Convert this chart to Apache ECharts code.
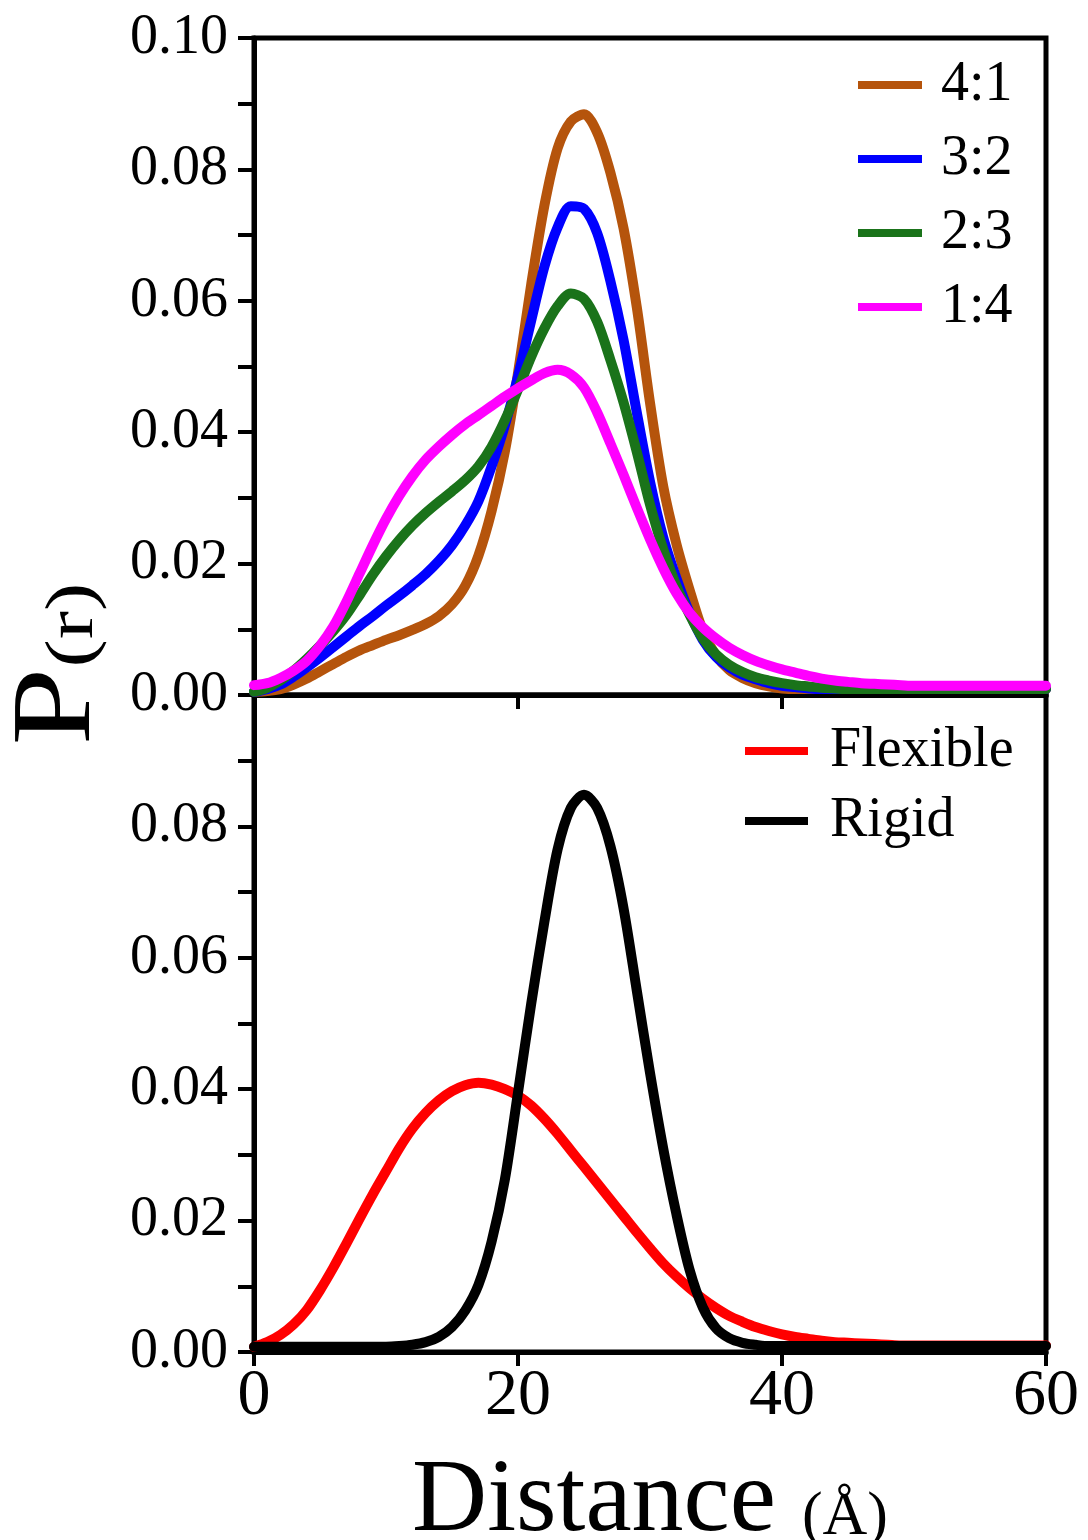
<!DOCTYPE html>
<html>
<head>
<meta charset="utf-8">
<script src="https://cdn.jsdelivr.net/npm/echarts@6/dist/echarts.min.js"></script>
<style>
  html, body { margin: 0; padding: 0; background: #ffffff; }
  #chart { width: 1088px; height: 1540px; }
</style>
</head>
<body>
<div id="chart"></div>
<script>
// Distance grid (Å), 1 Å steps, shared by every curve
const distance = [];
for (let d = 0; d <= 60; d++) distance.push(d);

// Upper panel: distance distributions for the four mixing ratios
const ratioNames = ['4:1', '3:2', '2:3', '1:4'];
const p41 = [
  0.0005, 0.0006, 0.0009, 0.0016, 0.0025, 0.0036, 0.0047, 0.0058, 0.0068, 0.0076,
  0.0084, 0.0091, 0.0099, 0.0108, 0.0120, 0.0138, 0.0166, 0.0212, 0.0280, 0.0370,
  0.0490, 0.0625, 0.0745, 0.0832, 0.0873, 0.0884, 0.0856, 0.0795, 0.0710, 0.0590,
  0.0445, 0.0318, 0.0230, 0.0160, 0.0098, 0.0060, 0.0038, 0.0026, 0.0018, 0.0013,
  0.0010, 0.0009, 0.0009, 0.0009, 0.0009, 0.0009, 0.0009, 0.0009, 0.0009, 0.0009,
  0.0009, 0.0009, 0.0009, 0.0009, 0.0009, 0.0009, 0.0009, 0.0009, 0.0009, 0.0009, 0.0009
];
const p32 = [
  0.0005, 0.0009, 0.0016, 0.0028, 0.0042, 0.0057, 0.0073, 0.0089, 0.0105, 0.0120,
  0.0136, 0.0151, 0.0167, 0.0184, 0.0204, 0.0228, 0.0258, 0.0295, 0.0348, 0.0410,
  0.0485, 0.0570, 0.0652, 0.0712, 0.0744, 0.0740, 0.0703, 0.0630, 0.0540, 0.0430,
  0.0325, 0.0240, 0.0178, 0.0125, 0.0084, 0.0058, 0.0042, 0.0031, 0.0024, 0.0018,
  0.0014, 0.0012, 0.0010, 0.0009, 0.0009, 0.0009, 0.0009, 0.0009, 0.0009, 0.0009,
  0.0009, 0.0009, 0.0009, 0.0009, 0.0009, 0.0009, 0.0009, 0.0009, 0.0009, 0.0009, 0.0009
];
const p23 = [
  0.0005, 0.0011, 0.0022, 0.0037, 0.0055, 0.0075, 0.0097, 0.0122, 0.0152, 0.0183,
  0.0211, 0.0236, 0.0258, 0.0277, 0.0294, 0.0310, 0.0327, 0.0348, 0.0378, 0.0418,
  0.0465, 0.0515, 0.0558, 0.0592, 0.0611, 0.0603, 0.0568, 0.0510, 0.0445, 0.0370,
  0.0290, 0.0222, 0.0166, 0.0122, 0.0086, 0.0062, 0.0046, 0.0035, 0.0027, 0.0022,
  0.0018, 0.0015, 0.0013, 0.0011, 0.0010, 0.0009, 0.0009, 0.0009, 0.0009, 0.0009,
  0.0009, 0.0009, 0.0009, 0.0009, 0.0009, 0.0009, 0.0009, 0.0009, 0.0009, 0.0009, 0.0009
];
const p14 = [
  0.0015, 0.0018, 0.0026, 0.0037, 0.0052, 0.0075, 0.0104, 0.0142, 0.0185, 0.0228,
  0.0268, 0.0303, 0.0333, 0.0358, 0.0378, 0.0396, 0.0412, 0.0426, 0.0440, 0.0454,
  0.0467, 0.0479, 0.0490, 0.0495, 0.0488, 0.0468, 0.0430, 0.0383, 0.0335, 0.0285,
  0.0237, 0.0193, 0.0155, 0.0125, 0.0103, 0.0086, 0.0072, 0.0061, 0.0052, 0.0045,
  0.0039, 0.0034, 0.0029, 0.0025, 0.0022, 0.0020, 0.0018, 0.0017, 0.0016, 0.0015,
  0.0014, 0.0014, 0.0014, 0.0014, 0.0014, 0.0014, 0.0014, 0.0014, 0.0014, 0.0014, 0.0014
];

// Lower panel: flexible vs rigid linker
const flexible = [
  0.0008, 0.0015, 0.0026, 0.0042, 0.0064, 0.0094, 0.0128, 0.0165, 0.0203, 0.0240,
  0.0275, 0.0310, 0.0340, 0.0364, 0.0383, 0.0397, 0.0406, 0.0410, 0.0407, 0.0400,
  0.0390, 0.0375, 0.0355, 0.0332, 0.0307, 0.0282, 0.0257, 0.0232, 0.0207, 0.0182,
  0.0158, 0.0135, 0.0115, 0.0097, 0.0081, 0.0067, 0.0055, 0.0046, 0.0038, 0.0032,
  0.0027, 0.0023, 0.0020, 0.0017, 0.0015, 0.0014, 0.0013, 0.0012, 0.0011, 0.0010,
  0.0010, 0.0010, 0.0010, 0.0010, 0.0010, 0.0010, 0.0010, 0.0010, 0.0010, 0.0010, 0.0010
];
const rigid = [
  0.0008, 0.0008, 0.0008, 0.0008, 0.0008, 0.0008, 0.0008, 0.0008, 0.0008, 0.0008,
  0.0008, 0.0009, 0.0011, 0.0015, 0.0023, 0.0038, 0.0063, 0.0102, 0.0168, 0.0262,
  0.0395, 0.0530, 0.0655, 0.0765, 0.0828, 0.0848, 0.0828, 0.0770, 0.0675, 0.0550,
  0.0425, 0.0310, 0.0210, 0.0125, 0.0068, 0.0036, 0.0021, 0.0014, 0.0011, 0.0009,
  0.0009, 0.0009, 0.0009, 0.0009, 0.0009, 0.0009, 0.0009, 0.0009, 0.0009, 0.0009,
  0.0009, 0.0009, 0.0009, 0.0009, 0.0009, 0.0009, 0.0009, 0.0009, 0.0009, 0.0009, 0.0009
];

const xTicks = [0, 20, 40, 60];
const yTickLabels = ['0.00', '0.02', '0.04', '0.06', '0.08', '0.10'];

const colors = {
  '4:1': '#b5540c',
  '3:2': '#0000ff',
  '2:3': '#1a731a',
  '1:4': '#ff00ff',
  'Flexible': '#ff0000',
  'Rigid': '#000000'
};

const serif = 'Liberation Serif';
const pair = (ys) => distance.map((x, i) => [x, ys[i]]);

function yLabel(hideTop) {
  return function (v) {
    const k = Math.round(v * 100);
    if (hideTop && k === 10) return '';
    if (k % 2 !== 0) return '';
    const s = (k / 100).toFixed(2);
    return yTickLabels.indexOf(s) >= 0 ? s : '';
  };
}

function lineSeries(name, ys, grid) {
  return {
    name: name,
    type: 'line',
    xAxisIndex: grid,
    yAxisIndex: grid,
    data: pair(ys),
    smooth: 0.3,
    showSymbol: false,
    symbol: 'none',
    lineStyle: { width: 10, color: colors[name], cap: 'round', join: 'round' },
    itemStyle: { color: colors[name] },
    animation: false
  };
}

const axisLineStyle = { color: '#000', width: 5 };
const tickStyle = { color: '#000', width: 4 };

const option = {
  backgroundColor: '#ffffff',
  animation: false,
  grid: [
    { left: 254, top: 38, width: 792, height: 657, show: true, borderColor: '#000', borderWidth: 5, backgroundColor: 'transparent', outerBoundsMode: 'none' },
    { left: 254, top: 695, width: 792, height: 657, show: true, borderColor: '#000', borderWidth: 5, backgroundColor: 'transparent', outerBoundsMode: 'none' }
  ],
  xAxis: [
    {
      gridIndex: 0, type: 'value', min: 0, max: 60, interval: 20,
      axisLine: { show: true, lineStyle: axisLineStyle },
      axisTick: { show: true, inside: false, length: 14, lineStyle: tickStyle },
      axisLabel: { show: false },
      splitLine: { show: false }
    },
    {
      gridIndex: 1, type: 'value', min: 0, max: 60, interval: 20,
      axisLine: { show: true, lineStyle: axisLineStyle },
      axisTick: { show: true, inside: false, length: 14, lineStyle: tickStyle },
      axisLabel: {
        show: true, margin: 12, color: '#000', fontFamily: serif, fontSize: 66,
        formatter: (v) => xTicks.indexOf(v) >= 0 ? String(v) : ''
      },
      splitLine: { show: false },
      name: '{a|Distance }{b|(Å)}',
      nameLocation: 'middle',
      nameGap: 99,
      nameTextStyle: {
        color: '#000', fontFamily: serif,
        rich: {
          a: { fontSize: 104, fontFamily: serif, color: '#000' },
          b: { fontSize: 62, fontFamily: serif, color: '#000', padding: [30, 0, 0, 0] }
        }
      }
    }
  ],
  yAxis: [
    {
      gridIndex: 0, type: 'value', min: 0, max: 0.1, interval: 0.01,
      axisLine: { show: true, lineStyle: axisLineStyle },
      axisTick: { show: true, inside: false, length: 16, lineStyle: tickStyle },
      axisLabel: { show: true, margin: 26, color: '#000', fontFamily: serif, fontSize: 56, formatter: yLabel(false), showMinLabel: true, showMaxLabel: true },
      splitLine: { show: false }
    },
    {
      gridIndex: 1, type: 'value', min: 0, max: 0.1, interval: 0.01,
      axisLine: { show: true, lineStyle: axisLineStyle },
      axisTick: { show: true, inside: false, length: 16, lineStyle: tickStyle },
      axisLabel: { show: true, margin: 26, color: '#000', fontFamily: serif, fontSize: 56, formatter: yLabel(true), showMinLabel: true, showMaxLabel: true },
      splitLine: { show: false }
    }
  ],
  legend: [
    {
      data: ratioNames,
      orient: 'vertical',
      left: 853, top: 52,
      icon: 'rect', itemWidth: 64, itemHeight: 8, itemGap: 18,
      textStyle: { color: '#000', fontFamily: serif, fontSize: 56, lineHeight: 56, padding: [0, 0, 0, 14] },
      selectedMode: false
    },
    {
      data: ['Flexible', 'Rigid'],
      orient: 'vertical',
      left: 740, top: 718,
      icon: 'rect', itemWidth: 63, itemHeight: 8, itemGap: 14,
      textStyle: { color: '#000', fontFamily: serif, fontSize: 56, lineHeight: 56, padding: [0, 0, 0, 17] },
      selectedMode: false
    }
  ],
  graphic: [
    {
      // vertical axis title, stretched along its reading direction
      type: 'text',
      x: 60, y: 664,
      rotation: Math.PI / 2,
      scaleX: 1.25,
      style: {
        text: '{p|P}{s|(r)}',
        align: 'center',
        verticalAlign: 'middle',
        rich: {
          p: { fontSize: 112, fontFamily: serif, fill: '#000' },
          s: { fontSize: 68, fontFamily: serif, fill: '#000', padding: [28, 0, 0, 0] }
        }
      }
    }
  ],
  series: [
    lineSeries('4:1', p41, 0),
    lineSeries('3:2', p32, 0),
    lineSeries('2:3', p23, 0),
    lineSeries('1:4', p14, 0),
    lineSeries('Flexible', flexible, 1),
    lineSeries('Rigid', rigid, 1)
  ]
};

const chart = echarts.init(document.getElementById('chart'), null, { renderer: 'canvas' });
chart.setOption(option);
</script>
</body>
</html>
